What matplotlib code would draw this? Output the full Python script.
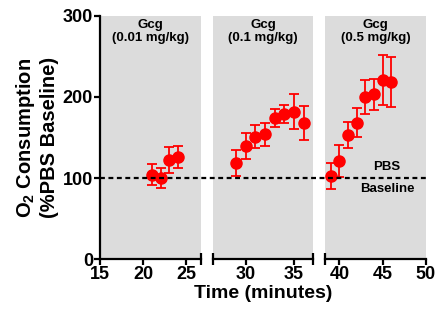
import matplotlib
matplotlib.use("Agg")
from matplotlib import pyplot as plt
from matplotlib import transforms

plt.rcParams["font.family"] = ["Liberation Sans", "DejaVu Sans"]
plt.rcParams["font.weight"] = "bold"
plt.rcParams["mathtext.fontset"] = "custom"
plt.rcParams["mathtext.bf"] = "Liberation Sans:bold"
plt.rcParams["mathtext.rm"] = "Liberation Sans:bold"
plt.rcParams["mathtext.default"] = "bf"

# Gcg 0.01 mg/kg
t_low = [21, 22, 23, 24]
o2_low = [104, 100, 122, 126]
err_low = [13, 12, 16, 13]

# Gcg 0.1 mg/kg
t_mid = [29, 30, 31, 32, 33, 34, 35, 36]
o2_mid = [118, 139, 151, 154, 174, 179, 182, 168]
err_mid = [16, 16, 14, 14, 11, 11, 21, 21]

# Gcg 0.5 mg/kg
t_high = [39, 40, 41, 42, 43, 44, 45, 46]
o2_high = [103, 121, 153, 168, 200, 203, 221, 218]
err_high = [16, 20, 16, 18, 21, 19, 31, 31]

doses = ["Gcg\n(0.01 mg/kg)", "Gcg\n(0.1 mg/kg)", "Gcg\n(0.5 mg/kg)"]
xlims = [(15, 26.65), (26.6, 37.0), (38.37, 50)]
xticks = [[15, 20, 25], [30, 35], [40, 45, 50]]
series = [(t_low, o2_low, err_low), (t_mid, o2_mid, err_mid), (t_high, o2_high, err_high)]

fig, axes = plt.subplots(1, 3, sharey=True, figsize=(4.38, 3.2), dpi=100)
fig.subplots_adjust(left=0.2283, right=0.9726, bottom=0.1897, top=0.951, wspace=0.1176)

for i, ax in enumerate(axes):
    t, y, e = series[i]
    ax.set_facecolor("#dcdcdc")
    ax.errorbar(t, y, yerr=e, fmt="o", color="#ff0000", ms=8, elinewidth=1.3,
                capsize=3.8, capthick=1.3, zorder=3, clip_on=False)
    ax.set_xlim(*xlims[i])
    ax.set_xticks(xticks[i])
    ax.set_ylim(0, 300)
    ax.set_yticks([0, 100, 200, 300])
    for s in ["top", "right"]:
        ax.spines[s].set_visible(False)
    ax.spines["bottom"].set_linewidth(1.6)
    ax.spines["left"].set_linewidth(1.6)
    ax.tick_params(width=1.6, length=4, labelsize=13, pad=1)
    ax.text(0.5, 0.985, doses[i], transform=ax.transAxes, ha="center", va="top",
            fontsize=9.5, fontweight="bold", linespacing=1.1)
    # break caps at the ends of the segments
    ends = []
    if i > 0:
        ends.append(0)
    if i < 2:
        ends.append(1)
    for xe in ends:
        ax.plot([xe], [0], marker="|", ms=8, mew=1.6, color="k",
                transform=ax.transAxes, clip_on=False, zorder=4)
    if i > 0:
        ax.spines["left"].set_visible(False)
        ax.tick_params(axis="y", left=False)

# PBS baseline dashed line across all segments
trans = transforms.blended_transform_factory(fig.transFigure, axes[0].transData)
x0 = axes[0].get_position().x0
x1 = axes[2].get_position().x1
fig.lines.append(plt.Line2D([x0, x1], [100, 100], transform=trans, color="k",
                            lw=1.6, dashes=(2.2, 1.6), zorder=5))
axes[2].text(45.5, 106, "PBS", ha="center", va="bottom", fontsize=9.5, fontweight="bold")
axes[2].text(45.5, 94, "Baseline", ha="center", va="top", fontsize=9.5, fontweight="bold")

axes[0].set_ylabel("O$_2$ Consumption\n(%PBS Baseline)", fontsize=14.5,
                   fontweight="bold", linespacing=1.15, labelpad=3)
axes[1].set_xlabel("Time (minutes)", fontsize=14, fontweight="bold", labelpad=1)

fig.savefig("out.png", dpi=100)
